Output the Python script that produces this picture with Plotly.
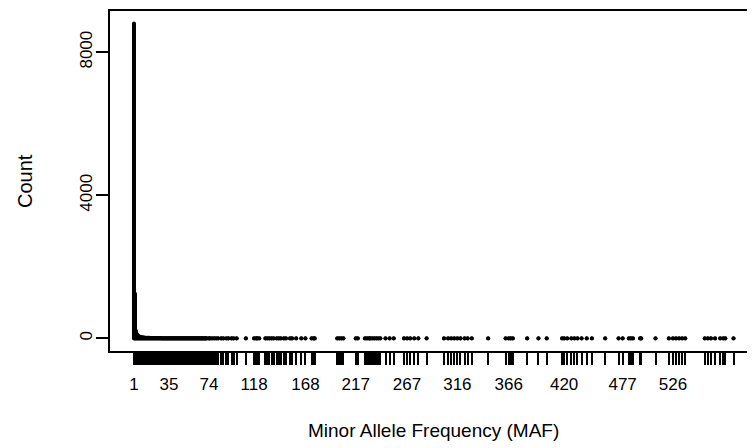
import plotly.graph_objects as go

# ---- data (minor allele count -> number of SNPs) ----
maf_values = [
    1, 2, 3, 4, 5, 6, 7, 8, 9, 10, 11, 12, 13, 14, 15, 16, 17, 18, 19, 20,
    21, 22, 23, 24, 25, 26, 27, 28, 29, 30, 31, 32, 33, 34, 35, 36, 37, 38, 39, 40,
    41, 42, 43, 44, 45, 46, 47, 48, 49, 50, 51, 52, 53, 54, 55, 56, 57, 58, 59, 60,
    61, 62, 63, 64, 65, 66, 67, 68, 69, 70, 71, 72,
    74, 75, 77, 79, 81, 83, 86, 88, 91, 93, 96, 98, 101, 110,
    118, 120, 121, 123, 129, 131, 133, 135, 137, 140, 142, 144, 147, 149, 153, 155,
    159, 164, 168, 174, 176, 177, 199, 201, 203, 205, 217, 219, 226, 228, 230, 231,
    233, 235, 237, 239, 241, 246, 250, 254, 264, 267, 270, 274, 278, 286, 303, 307,
    310, 313, 316, 319, 323, 326, 330, 346, 363, 366, 368, 370, 384, 395, 403, 418,
    420, 423, 427, 430, 433, 437, 442, 447, 460, 473, 477, 483, 485, 487, 494, 495,
    509, 522, 526, 529, 532, 535, 538, 557, 560, 563, 567, 572, 575, 577, 585,
]
maf_counts = [
    8800, 1250, 210, 115, 75, 55, 44, 37, 31, 27, 24, 21, 19, 17, 16, 15, 14, 13, 12, 11,
    11, 10, 10, 9, 9, 8, 8, 7, 7, 7, 6, 6, 6, 6, 5, 5, 5, 5, 4, 4,
    4, 4, 4, 3, 3, 4, 3, 3, 3, 3, 3, 2, 3, 2, 2, 3, 2, 2, 2, 2,
    2, 1, 2, 2, 1, 2, 1, 1, 2, 1, 1, 1,
    2, 1, 1, 2, 1, 1, 1, 2, 1, 1, 1, 1, 1, 1,
    2, 1, 1, 1, 1, 2, 1, 1, 1, 1, 1, 1, 1, 1, 1, 1,
    1, 1, 2, 1, 1, 1, 1, 1, 1, 1, 2, 1, 1, 1, 1, 1,
    1, 1, 1, 1, 1, 1, 1, 1, 1, 2, 1, 1, 1, 1, 1, 1,
    1, 1, 2, 1, 1, 1, 1, 1, 1, 2, 1, 1, 1, 1, 1, 1,
    2, 1, 1, 1, 1, 1, 1, 1, 1, 1, 2, 1, 1, 1, 1, 1,
    1, 1, 2, 1, 1, 1, 1, 1, 1, 1, 1, 1, 1, 1, 1,
]
x_label_values = [1, 35, 74, 118, 168, 217, 267, 316, 366, 420, 477, 526]
y_tick_values = [0, 4000, 8000]
x_title = "Minor Allele Frequency (MAF)"
y_title = "Count"

# ---- layout geometry (pixels, in window coordinates) ----
OFF_X, OFF_Y = 8, 8          # page body margin compensation
W, H = 755 - OFF_X, 448 - OFF_Y
L_PX, R_FULL_PX, R_VIS_PX = 110, 757.5, 755
T_PX, B_PX = 11, 351.5

# R-style 4% axis extension
vmin, vmax = min(maf_values), max(maf_values)
x_lo = vmin - 0.04 * (vmax - vmin)
x_hi_full = vmax + 0.04 * (vmax - vmin)
px_per_unit = (R_FULL_PX - L_PX) / (x_hi_full - x_lo)
x_hi_vis = x_lo + (R_VIS_PX - L_PX) / px_per_unit

cmax = max(maf_counts)
y_lo, y_hi = -0.04 * cmax, 1.04 * cmax

# vertical "type = h" segments
xs, ys = [], []
for v, c in zip(maf_values, maf_counts):
    xs += [v, v, None]
    ys += [0, c, None]

fig = go.Figure(
    go.Scatter(
        x=xs, y=ys, mode="lines+markers",
        line=dict(color="black", width=4),
        marker=dict(size=4, color="black", line=dict(width=0)),
        hoverinfo="skip", showlegend=False,
    )
)

FONT = "Liberation Sans, Arial, Helvetica, sans-serif"
ticktext = [str(v) if v in x_label_values else "" for v in maf_values]

fig.update_layout(
    width=W, height=H,
    margin=dict(l=L_PX - OFF_X, r=755 - R_VIS_PX, t=T_PX - OFF_Y,
                b=448 - B_PX, pad=0, autoexpand=False),
    paper_bgcolor="white", plot_bgcolor="white",
    font=dict(family=FONT, size=17, color="black"),
    showlegend=False,
    xaxis=dict(
        range=[x_lo, x_hi_vis], tickmode="array",
        tickvals=maf_values, ticktext=ticktext, automargin=False,
        ticks="outside", ticklen=12, tickwidth=1.7, tickcolor="black",
        showline=True, linecolor="black", linewidth=1.5, mirror=True,
        showgrid=False, zeroline=False, ticklabelstandoff=5,
        tickfont=dict(family=FONT, size=17, color="black"),
    ),
    yaxis=dict(
        range=[y_lo, y_hi], tickmode="array", tickvals=y_tick_values,
        ticktext=[str(v) for v in y_tick_values], automargin=False,
        ticks="outside", ticklen=12, tickwidth=1.5, tickcolor="black",
        showline=True, linecolor="black", linewidth=1.5, mirror=False,
        showgrid=False, zeroline=False, tickangle=-90, ticklabelstandoff=-3,
        tickfont=dict(family=FONT, size=17, color="black"),
    ),
    annotations=[
        dict(text=x_title, xref="paper", yref="paper",
             x=((L_PX + R_FULL_PX) / 2 - L_PX) / (R_VIS_PX - L_PX),
             y=(B_PX - 431) / (B_PX - T_PX),
             xanchor="center", yanchor="middle", showarrow=False,
             font=dict(family=FONT, size=19, color="black")),
        dict(text=y_title, xref="paper", yref="paper",
             x=(25 - L_PX) / (R_VIS_PX - L_PX), y=0.5, textangle=-90,
             xanchor="center", yanchor="middle", showarrow=False,
             font=dict(family=FONT, size=20, color="black")),
    ],
)

fig.write_html("out.html")
